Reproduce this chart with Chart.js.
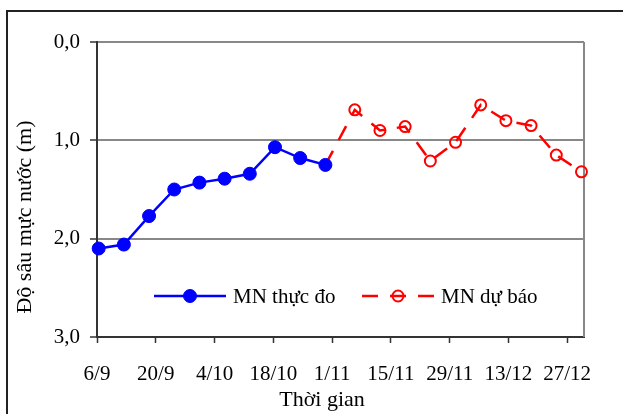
<!DOCTYPE html>
<html lang="vi">
<head>
<meta charset="utf-8">
<title>Độ sâu mực nước</title>
<script src="https://cdn.jsdelivr.net/npm/chart.js@4.4.1/dist/chart.umd.min.js"></script>
<style>
  html, body { margin: 0; padding: 0; background: #fff; overflow: hidden; }
  #wrap { position: relative; width: 623px; height: 414px; }
</style>
</head>
<body>
<div id="wrap"><canvas id="chart"></canvas></div>
<script>
// Days counted from 6/9
const tickLabels = ['6/9', '20/9', '4/10', '18/10', '1/11', '15/11', '29/11', '13/12', '27/12'];
const tickDays = [0, 14, 28, 42, 56, 70, 84, 98, 112];
const lastDay = 116; // 31/12

const measuredDays = [0.4, 6.4, 12.4, 18.4, 24.4, 30.4, 36.4, 42.4, 48.4, 54.4];
const measuredDepth = [2.10, 2.06, 1.77, 1.50, 1.43, 1.39, 1.34, 1.07, 1.18, 1.25];

// forecast starts from the last measured point
const forecastDays = [54.4, 61.4, 67.4, 73.4, 79.4, 85.4, 91.4, 97.4, 103.4, 109.4, 115.4];
const forecastDepth = [1.25, 0.69, 0.90, 0.86, 1.21, 1.02, 0.64, 0.80, 0.85, 1.15, 1.32];

const seriesNames = ['MN thực đo', 'MN dự báo'];
const xTitle = 'Thời gian';
const yTitle = 'Độ sâu mực nước (m)';

const SERIF = '"Liberation Serif", "Times New Roman", serif';
const AXIS_DARK = '#333';
const GRID_GREY = '#888';

const toPoints = (xs, ys) => xs.map((x, i) => ({ x: x, y: ys[i] }));

// frame, plot border, titles and the in-plot legend
const decorPlugin = {
    id: 'decor',
    beforeDraw(chart) {
        const ctx = chart.ctx;
        ctx.save();
        ctx.fillStyle = '#fff';
        ctx.fillRect(0, 0, chart.width, chart.height);
        ctx.strokeStyle = '#222';
        ctx.lineWidth = 2;
        ctx.strokeRect(7, 11, chart.width + 40, chart.height + 40);
        ctx.restore();
    },
    beforeDatasetsDraw(chart) {
        const { ctx, chartArea } = chart;
        ctx.save();
        ctx.strokeStyle = GRID_GREY;
        ctx.lineWidth = 2;
        ctx.beginPath();
        ctx.moveTo(chartArea.right, chartArea.top);
        ctx.lineTo(chartArea.right, chartArea.bottom);
        ctx.stroke();
        ctx.restore();
    },
    afterDraw(chart) {
        const { ctx, chartArea } = chart;
        ctx.save();
        ctx.fillStyle = '#000';

        // axis titles
        ctx.font = '22px ' + SERIF;
        ctx.textAlign = 'center';
        ctx.textBaseline = 'alphabetic';
        ctx.fillText(xTitle, 322, 406);

        ctx.translate(31, 217);
        ctx.rotate(-Math.PI / 2);
        ctx.fillText(yTitle, 0, 0);
        ctx.setTransform(1, 0, 0, 1, 0, 0);

        // legend
        const rowY = chartArea.bottom - 41;
        const items = [chartArea.left + 57, chartArea.left + 265];
        chart.data.datasets.forEach((ds, i) => {
            const x = items[i];
            ctx.strokeStyle = ds.borderColor;
            ctx.lineWidth = ds.borderWidth;
            ctx.setLineDash(ds.borderDash || []);
            ctx.beginPath();
            ctx.moveTo(x, rowY);
            ctx.lineTo(x + 72, rowY);
            ctx.stroke();
            ctx.setLineDash([]);
            ctx.beginPath();
            ctx.arc(x + 36, rowY, ds.legendRadius, 0, Math.PI * 2);
            ctx.fillStyle = ds.pointBackgroundColor;
            ctx.fill();
            ctx.lineWidth = ds.pointBorderWidth;
            ctx.strokeStyle = ds.pointBorderColor;
            ctx.stroke();

            ctx.fillStyle = '#000';
            ctx.font = '21px ' + SERIF;
            ctx.textAlign = 'left';
            ctx.textBaseline = 'alphabetic';
            ctx.fillText(ds.label, x + 79, rowY + 7);
        });
        ctx.restore();
    }
};

new Chart(document.getElementById('chart'), {
    type: 'line',
    data: {
        datasets: [
            {
                label: seriesNames[0],
                data: toPoints(measuredDays, measuredDepth),
                borderColor: '#0000ff',
                borderWidth: 2.5,
                pointRadius: 6.5,
                legendRadius: 6.5,
                pointBackgroundColor: '#0000ff',
                pointBorderColor: '#0000ff',
                pointBorderWidth: 1,
                tension: 0,
                clip: false,
                order: 0
            },
            {
                label: seriesNames[1],
                data: toPoints(forecastDays, forecastDepth),
                borderColor: '#ff0000',
                borderWidth: 2.5,
                borderDash: [16, 12],
                pointRadius: (c) => c.dataIndex === 0 ? 0 : 5.5,
                legendRadius: 5.5,
                pointBackgroundColor: 'rgba(0,0,0,0)',
                pointBorderColor: '#ff0000',
                pointBorderWidth: 2,
                tension: 0,
                clip: false,
                order: 1
            }
        ]
    },
    options: {
        responsive: true,
        maintainAspectRatio: false,
        animation: false,
        layout: { padding: { top: 42, right: 39, left: 0, bottom: 0 } },
        plugins: {
            legend: { display: false },
            tooltip: { enabled: false }
        },
        scales: {
            x: {
                type: 'linear',
                min: 0,
                max: lastDay,
                afterBuildTicks: (axis) => { axis.ticks = tickDays.map(v => ({ value: v })); },
                afterFit: (axis) => { axis.height = 77; },
                ticks: {
                    callback: (value, index) => tickLabels[index],
                    color: '#000',
                    font: { family: SERIF, size: 21 },
                    padding: 19,
                    maxRotation: 0,
                    autoSkip: false
                },
                grid: {
                    drawOnChartArea: false,
                    drawTicks: true,
                    tickLength: 6,
                    tickColor: AXIS_DARK,
                    tickWidth: 1.5
                },
                border: { color: AXIS_DARK, width: 2 }
            },
            y: {
                reverse: true,
                min: 0,
                max: 3,
                afterFit: (axis) => { axis.width = 97; },
                ticks: {
                    stepSize: 1,
                    callback: (value) => value.toFixed(1).replace('.', ','),
                    color: '#000',
                    font: { family: SERIF, size: 21 },
                    padding: 10
                },
                grid: {
                    color: GRID_GREY,
                    lineWidth: 2,
                    tickLength: 7,
                    tickColor: AXIS_DARK,
                    tickWidth: 1.5
                },
                border: { color: AXIS_DARK, width: 2 }
            }
        }
    },
    plugins: [decorPlugin]
});
</script>
</body>
</html>
